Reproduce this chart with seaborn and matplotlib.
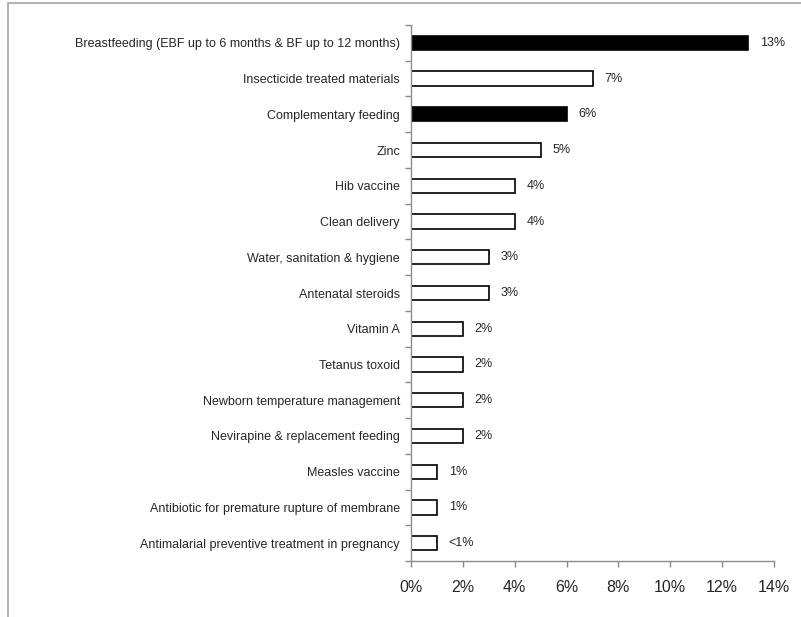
import numpy as np
import pandas as pd
import matplotlib
matplotlib.use("Agg")
import matplotlib.pyplot as plt
from matplotlib.patches import Rectangle
import seaborn as sns

# Chart data
categories = [
    "Breastfeeding (EBF up to 6 months & BF up to 12 months)",
    "Insecticide treated materials",
    "Complementary feeding",
    "Zinc",
    "Hib vaccine",
    "Clean delivery",
    "Water, sanitation & hygiene",
    "Antenatal steroids",
    "Vitamin A",
    "Tetanus toxoid",
    "Newborn temperature management",
    "Nevirapine & replacement feeding",
    "Measles vaccine",
    "Antibiotic for premature rupture of membrane",
    "Antimalarial preventive treatment in pregnancy",
]
values = [13, 7, 6, 5, 4, 4, 3, 3, 2, 2, 2, 2, 1, 1, 1]
value_labels = ["13%", "7%", "6%", "5%", "4%", "4%", "3%", "3%", "2%", "2%",
                "2%", "2%", "1%", "1%", "<1%"]
highlighted = ["Breastfeeding (EBF up to 6 months & BF up to 12 months)",
               "Complementary feeding"]

df = pd.DataFrame({"Intervention": categories, "Value": values})
palette = {c: ("black" if c in highlighted else "white") for c in categories}

sns.set_style("white")
plt.rcParams['font.family'] = ['Liberation Sans', 'DejaVu Sans']

fig = plt.figure(figsize=(8.01, 6.17), dpi=100)
ax = fig.add_axes([411 / 801, 1 - 561 / 617, (774 - 411) / 801, (561 - 25) / 617])

sns.barplot(data=df, y="Intervention", x="Value", hue="Intervention",
            palette=palette, order=categories, orient="h", width=0.4,
            edgecolor="black", linewidth=1.2, legend=False, ax=ax)

ax.set_xlim(0, 14)
ax.set_ylim(len(categories) - 0.5, -0.5)
ax.set_xticks(np.arange(0, 15, 2))
ax.set_xticklabels([f"{v}%" for v in range(0, 15, 2)], fontsize=11.5)
ax.set_yticks(range(len(categories)))
ax.set_yticklabels(categories, fontsize=9)
ax.set_yticks(np.arange(-0.5, len(categories), 1), minor=True)
ax.tick_params(axis="y", which="major", left=True, length=0, pad=8)
ax.tick_params(axis="y", which="minor", left=True, length=4, width=1,
               color="#8c8c8c", direction="out")
ax.tick_params(axis="x", bottom=True, length=4, width=1, color="#8c8c8c",
               direction="out", pad=10)
ax.set_xlabel("")
ax.set_ylabel("")

for side in ["top", "right"]:
    ax.spines[side].set_visible(False)
for side in ["left", "bottom"]:
    ax.spines[side].set_color("#8c8c8c")
    ax.spines[side].set_linewidth(1)

for i, (v, lab) in enumerate(zip(values, value_labels)):
    ax.text(v + 0.45, i, lab, va="center", ha="left", fontsize=9)

# outer frame
fig.add_artist(Rectangle((8 / 801, -0.1), 1.5, 1 - 3 / 617 + 0.1,
                         transform=fig.transFigure, fill=False,
                         edgecolor="#a6a6a6", linewidth=1.2))

fig.savefig("out.png", dpi=100)
